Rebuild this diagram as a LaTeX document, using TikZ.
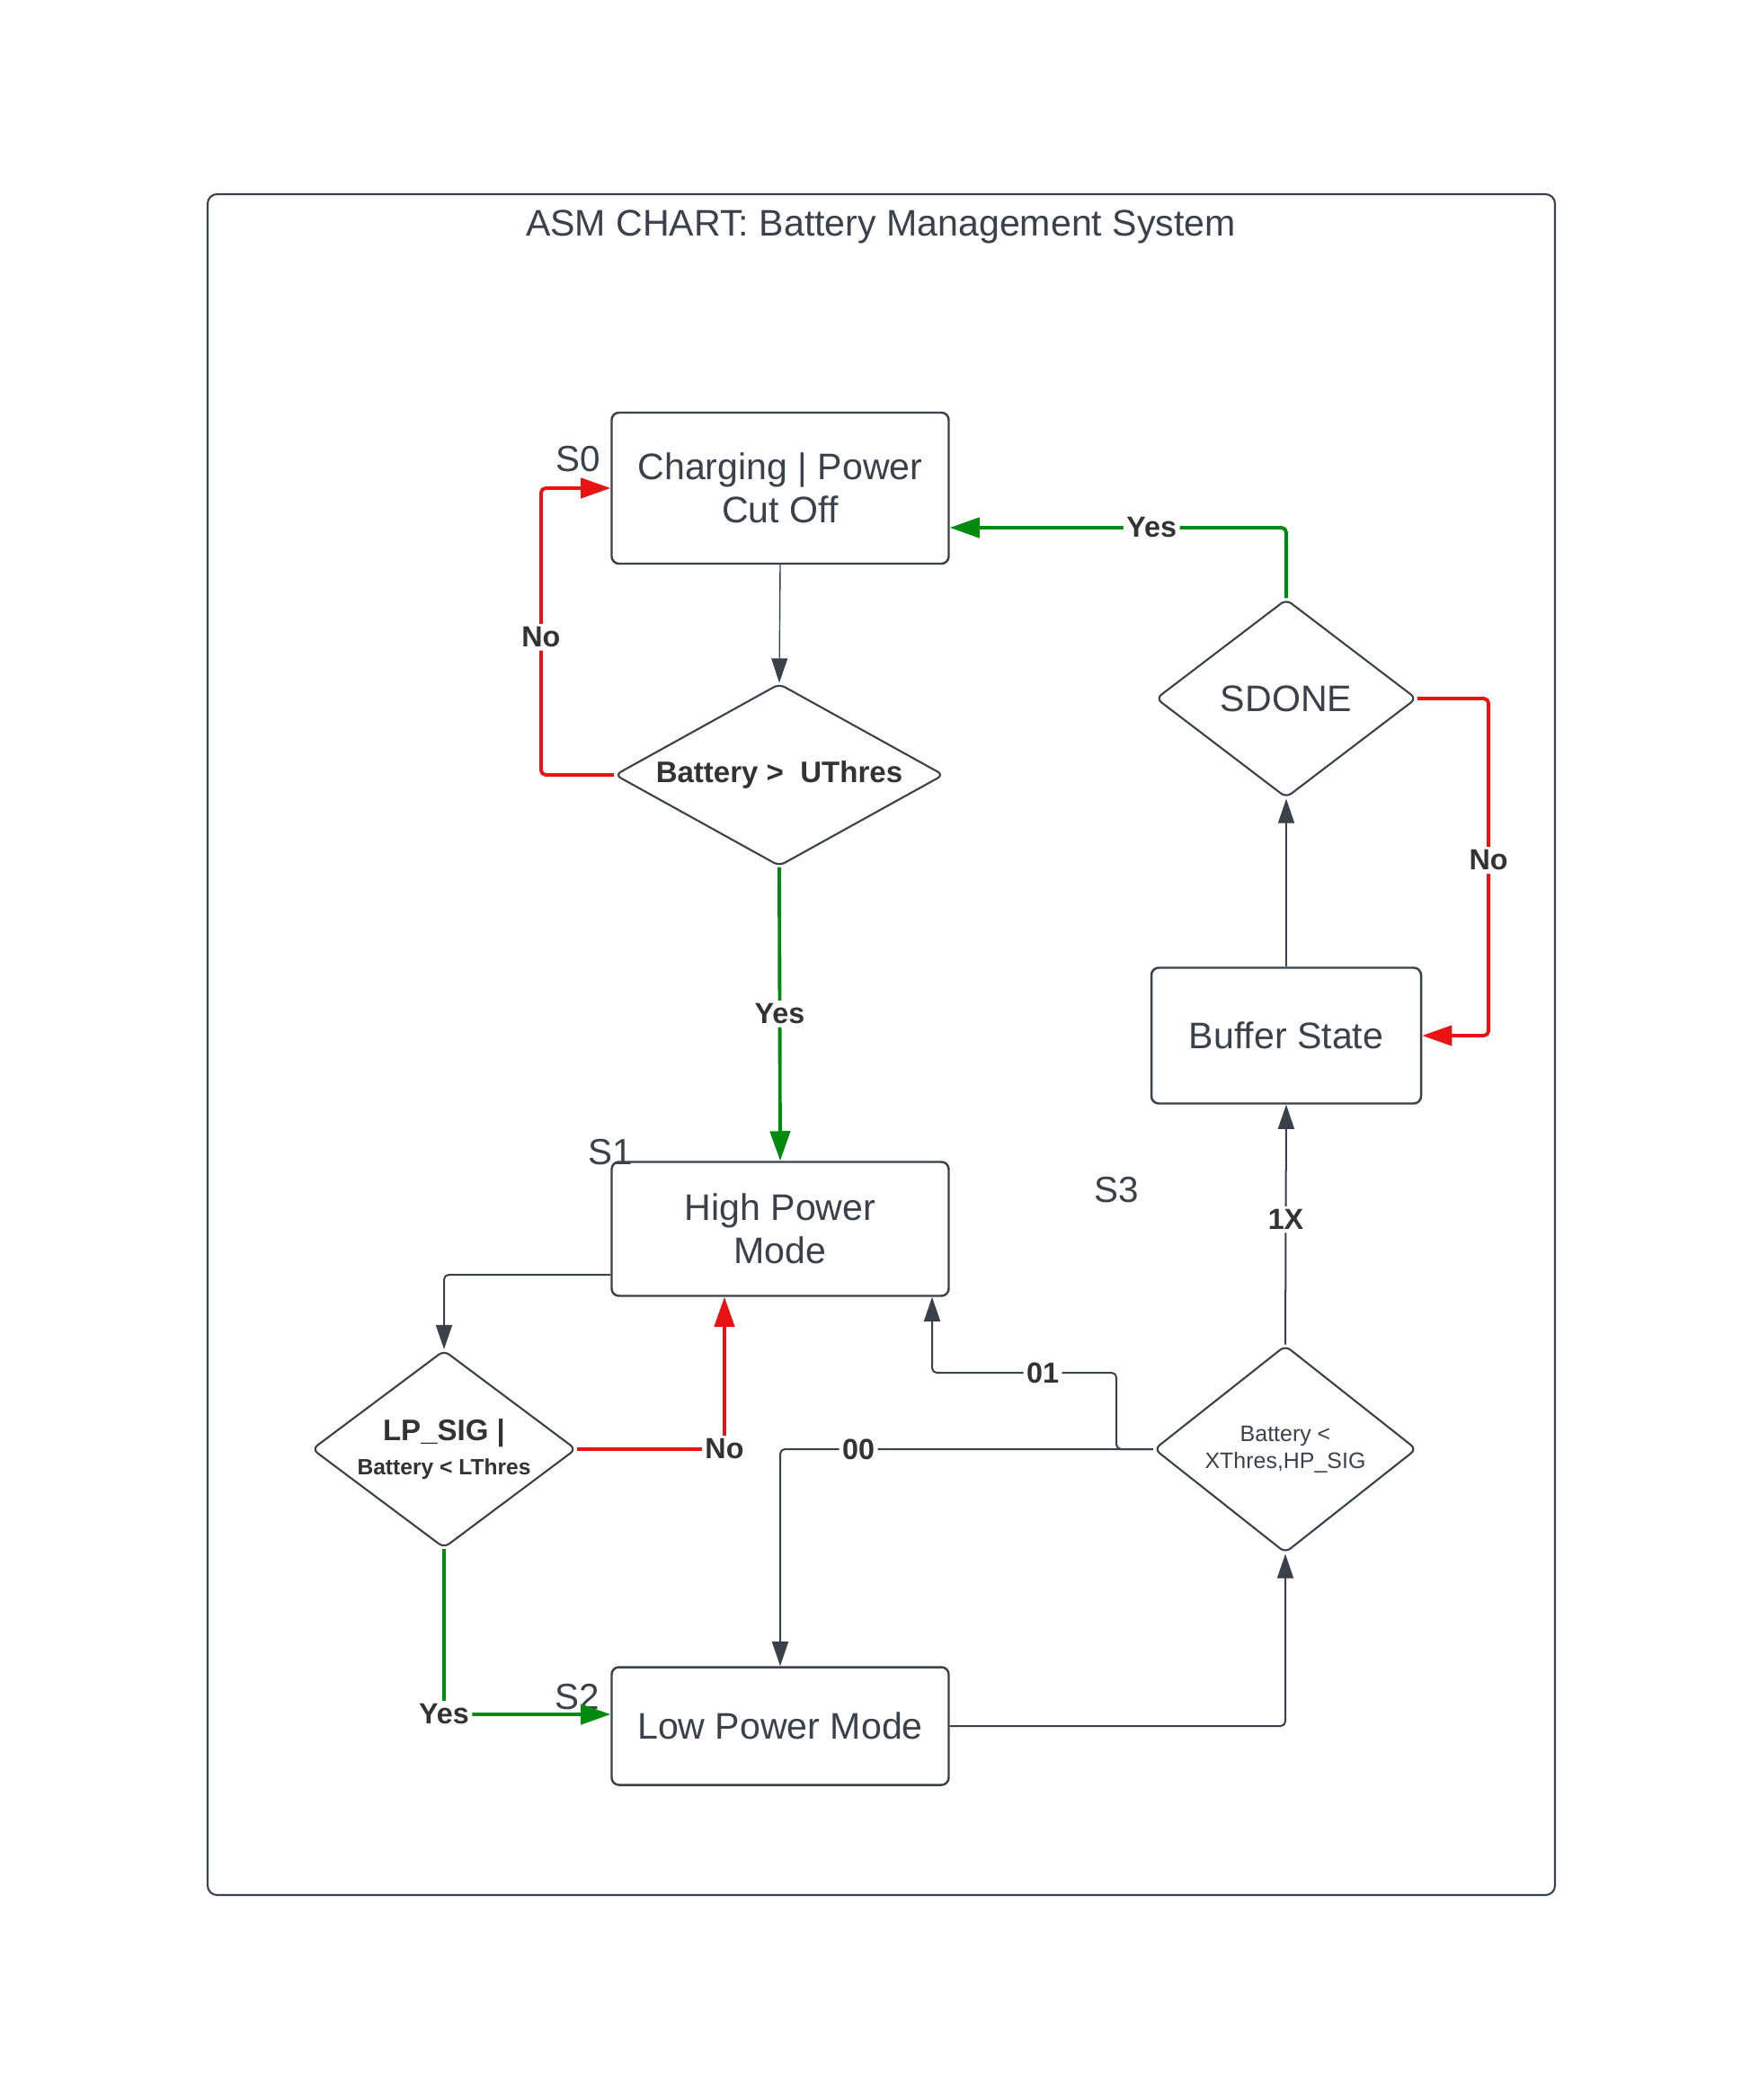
\documentclass[tikz,border=0pt]{standalone}
\usepackage{fontspec}
\setmainfont{Liberation Sans}
\usepackage{tikz}
\usetikzlibrary{arrows.meta, shapes.geometric}
\definecolor{bDark}{HTML}{3A414A}
\definecolor{bRed}{HTML}{E81313}
\definecolor{bGreen}{HTML}{008A0E}
\definecolor{bText}{HTML}{333333}

\begin{document}
\begin{tikzpicture}[
  state/.style={draw=bDark, line width=0.7pt, rounded corners=2.3pt, text=bDark, align=center,
    minimum width=3.75cm, font=\fontsize{11.7}{13.7}\selectfont},
  cond/.style={diamond, draw=bDark, line width=0.6pt, rounded corners=2pt, text=bDark,
    align=center, inner sep=0pt},
  tag/.style={text=bDark, font=\fontsize{11.5}{13}\selectfont},
  link/.style={draw=bDark, line width=0.57pt, rounded corners=1.5pt,
    -{Triangle[length=7.7pt,width=5.1pt]}},
  yes/.style={link, draw=bGreen, line width=1.1pt, -{Triangle[length=9.4pt,width=6.3pt]}},
  no/.style={link, draw=bRed, line width=1.1pt, -{Triangle[length=9.4pt,width=6.3pt]}},
  lbl/.style={fill=white, text=bText, inner sep=1pt, font=\bfseries\fontsize{9.2}{10}\selectfont},
]
  \useasboundingbox (0,0) rectangle (19.56,-23.36);
  \draw[bDark, line width=0.6pt, rounded corners=3pt] (2.31,-2.16) rectangle (17.30,-21.08);
  \node[text=bDark, font=\fontsize{11.7}{13}\selectfont] (title) at (9.80,-2.52)
    {ASM CHART: Battery Management System};

  \node[state, minimum height=1.68cm] (s0) at (8.68,-5.43) {Charging | Power\\Cut Off};
  \node[tag] (s0tag) at (6.43,-5.11) {S0};
  \node[cond, minimum width=3.66cm, minimum height=2.03cm] (upper) at (8.67,-8.62) {};
  \node[text=bText, font=\bfseries\fontsize{9.4}{11}\selectfont] (uppertxt) at (upper) {Battery >~~UThres};
  \node[state, minimum height=1.49cm] (hp) at (8.68,-13.67) {High Power\\Mode};
  \node[tag] (s1tag) at (6.79,-12.82) {S1};
  \node[tag] (s3tag) at (12.42,-13.24) {S3};
  \node[state, minimum width=3.00cm, minimum height=1.51cm] (buf) at (14.31,-11.52) {Buffer State};
  \node[cond, minimum width=2.90cm, minimum height=2.21cm,
    font=\fontsize{11.7}{13}\selectfont] (sdone) at (14.31,-7.77) {SDONE};
  \node[cond, minimum width=2.92cm, minimum height=2.20cm,
    font=\fontsize{7.1}{8.5}\selectfont] (xthr) at (14.30,-16.12) {Battery <\\XThres,HP\_SIG};
  \node[cond, minimum width=2.94cm, minimum height=2.20cm] (lower) at (4.94,-16.12) {};
  \node[text=bText, align=center] (lowertxt) at (lower)
    {\bfseries\fontsize{9.4}{11}\selectfont LP\_SIG |\\[-1pt]
     \bfseries\fontsize{7}{9}\selectfont Battery < LThres};
  \node[state, minimum height=1.31cm] (lp) at (8.68,-19.20) {Low Power Mode};
  \node[tag] (s2tag) at (6.42,-18.88) {S2};

  \draw[link, line width=0.4pt] (s0.south) -- (upper.north);
  \draw[no] (upper.west) -- ++(-0.81,0) |- node[lbl, pos=0.24] {No} (s0.west);
  \draw[yes] (upper.south) -- node[lbl, pos=0.50] {Yes} (hp.north);
  \draw[yes] (sdone.north) |- node[lbl, pos=0.70] {Yes} ([yshift=-0.44cm]s0.east);
  \draw[no] (sdone.east) -- ++(0.79,0) |- node[lbl, pos=0.24] {No} (buf.east);
  \draw[link] (buf.north) -- (sdone.south);
  \draw[link] (xthr.north) -- node[lbl, pos=0.52] {1X} (buf.south);
  \coordinate (bend01) at (12.42,-15.27);
  \draw[link] (xthr.west) -| (bend01) -| node[lbl, pos=0.2] {01} ([xshift=1.69cm]hp.south);
  \draw[link] (xthr.west) -| node[lbl, pos=0.395] {00} (lp.north);
  \draw[link] (lp.east) -| (xthr.south);
  \draw[link] ([yshift=-0.51cm]hp.west) -| (lower.north);
  \draw[no] (lower.east) -| node[lbl, pos=0.5] {No} ([xshift=-0.62cm]hp.south);
  \draw[yes] (lower.south) |- node[lbl, pos=0.5] {Yes} ([yshift=0.13cm]lp.west);
\end{tikzpicture}
\end{document}
